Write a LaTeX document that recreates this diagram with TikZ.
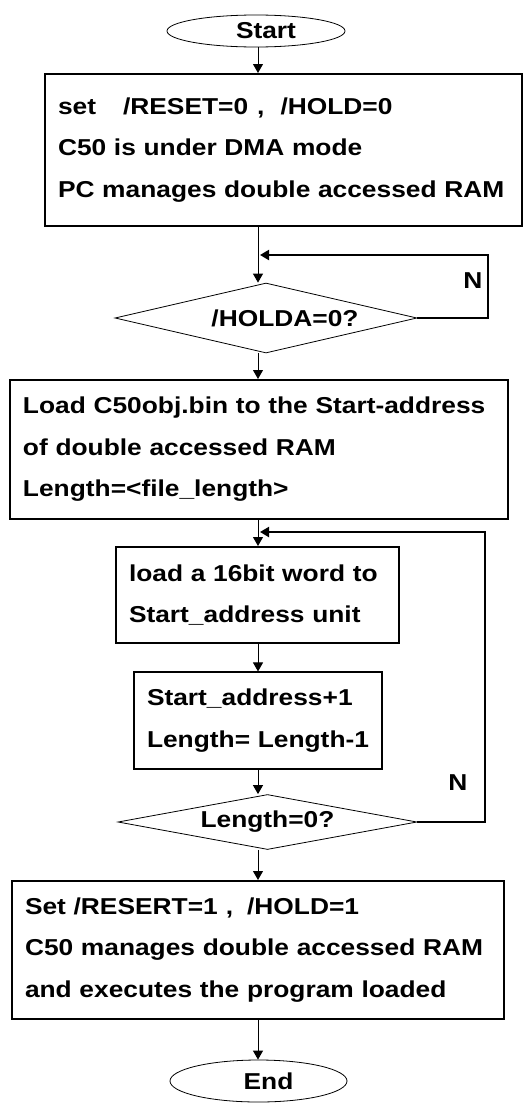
\documentclass[tikz,border=0pt]{standalone}
\usepackage{fontspec}
\setmainfont{Liberation Sans}[FakeStretch=1.145]
\usetikzlibrary{shapes.geometric,arrows.meta}

\tikzset{
  stepbox/.style={draw, rectangle, line width=2pt, align=left, inner xsep=13pt, inner ysep=0pt},
  decide/.style={draw, diamond, line width=0.8pt, aspect=4.3, inner sep=0pt},
  term/.style={draw, ellipse, line width=0.8pt, inner sep=0pt},
  arr/.style={line width=1pt, -{Triangle[width=10pt,length=9pt]}},
  back/.style={line width=2pt, -{Triangle[width=10pt,length=9pt]}},
}

\begin{document}
\begin{tikzpicture}[x=1pt, y=-1pt, font=\bfseries\fontsize{23}{41.5}\selectfont]
    \useasboundingbox (0,0) rectangle (525,1103);
    % nodes
    \node[term, minimum width=178pt, minimum height=32pt](start) at (256,31) {\hspace*{20pt}Start};
    \node[stepbox, text width=451pt, minimum width=477pt, minimum height=152pt](set) at (283.5,150)
        {set\hspace{27pt}/RESET=0\hspace{9pt},\hspace{16pt}/HOLD=0\\
         C50 is under DMA mode\\
         PC manages double accessed RAM};
    \node[decide, minimum width=302pt, minimum height=70pt](holda) at (266,318) {\hspace*{38pt}/HOLDA=0?};
    \node[stepbox, text width=472pt, minimum width=498pt, minimum height=139pt](load) at (259,449.5)
        {Load C50obj.bin to the Start-address\\
         of double accessed RAM\\
         Length=<file\_length>};
    \node[stepbox, text width=257pt, minimum width=283pt, minimum height=96pt](word) at (257.5,595)
        {load a 16bit word to\\
         Start\_address unit};
    \node[stepbox, line width=1.1pt, text width=222pt, minimum width=248pt, minimum height=97pt](incr) at (258,720.5)
        {Start\_address+1\\
         Length= Length-1};
    \node[decide, minimum width=299pt, minimum height=55pt](len) at (267.5,822) {Length=0?};
    \node[stepbox, text width=466pt, minimum width=492pt, minimum height=138pt](fin) at (258,950)
        {Set /RESERT=1\hspace{8pt},\hspace{14pt}/HOLD=1\\
         C50 manages double accessed RAM\\
         and executes the program loaded};
    \node[term, minimum width=177pt, minimum height=42pt](end) at (258.5,1081) {\hspace*{20pt}End};
    \node(n1) at (473,281) {N};
    \node(n2) at (458,783) {N};
    \coordinate (spine) at (258,0);
    \coordinate (j1) at (260,255);
    \coordinate (j2) at (260,532);
    % connectors
    \draw[arr] (spine |- start.south) -- (spine |- set.north);
    \draw[arr] (spine |- set.south) -- (spine |- holda.north);
    \draw[back] (holda.east) -- ++(71,0) |- (j1);
    \draw[arr] (spine |- holda.south) -- (spine |- load.north);
    \draw[arr] (spine |- load.south) -- (spine |- word.north);
    \draw[back] (len.east) -- ++(68,0) |- (j2);
    \draw[arr] (spine |- word.south) -- (spine |- incr.north);
    \draw[arr] (spine |- incr.south) -- (spine |- len.north);
    \draw[arr] (spine |- len.south) -- (spine |- fin.north);
    \draw[arr] (spine |- fin.south) -- (spine |- end.north);
\end{tikzpicture}
\end{document}
